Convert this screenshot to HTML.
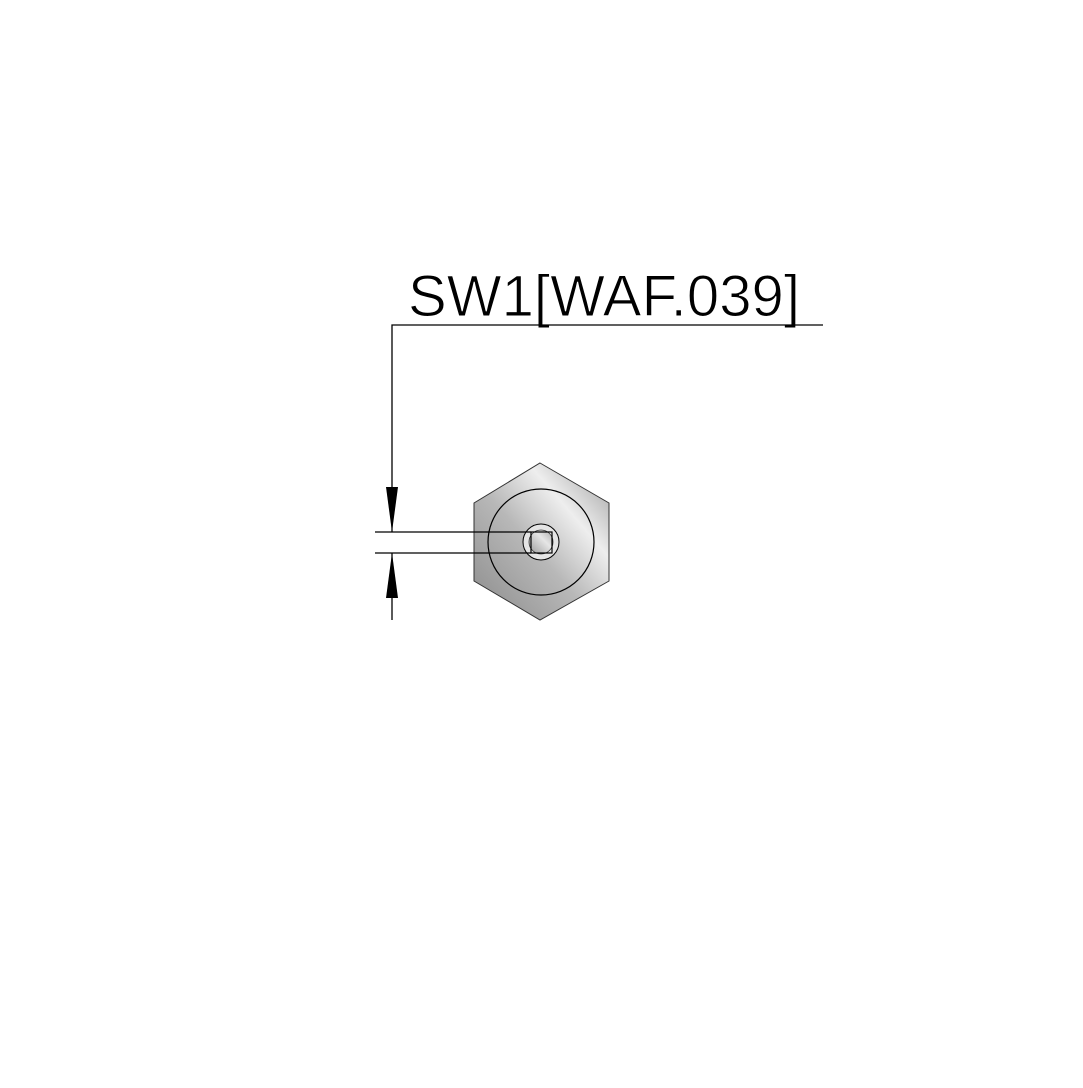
<!DOCTYPE html>
<html><head><style>html,body{margin:0;padding:0;background:#fff}</style></head>
<body>
<svg width="1083" height="1083" viewBox="0 0 1083 1083" xmlns="http://www.w3.org/2000/svg">
<defs>
<linearGradient id="g" x1="0" y1="1" x2="1" y2="0">
<stop offset="0" stop-color="#8a8a8a"/>
<stop offset="0.45" stop-color="#b8b8b8"/>
<stop offset="0.7" stop-color="#eeeeee"/>
<stop offset="1" stop-color="#9a9a9a"/>
</linearGradient>
<linearGradient id="g2" x1="0" y1="1" x2="1" y2="0">
<stop offset="0" stop-color="#999"/>
<stop offset="0.6" stop-color="#e6e6e6"/>
<stop offset="1" stop-color="#aaa"/>
</linearGradient>
</defs>
<text x="408" y="316" font-family="'Liberation Sans',sans-serif" font-size="58" textLength="392" lengthAdjust="spacing" fill="#000" stroke="#fff" stroke-width="1" style="paint-order:normal">SW1[WAF.039]</text>
<polyline points="823,325 392,325 392,532" fill="none" stroke="#000" stroke-width="1.3"/>
<line x1="392" y1="553" x2="392" y2="620" stroke="#000" stroke-width="1.3"/>
<polygon points="386,487 398,487 392,532" fill="#000"/>
<polygon points="386,598 398,598 392,553" fill="#000"/>
<polygon points="540,463 609,503 609,581 540,620 474,581 474,503" fill="url(#g)" stroke="#333" stroke-width="1"/>
<circle cx="541" cy="542" r="53" fill="none" stroke="#000" stroke-width="1.2"/>
<circle cx="541" cy="542" r="18" fill="#e4e4e4" stroke="#000" stroke-width="1"/>
<circle cx="541" cy="542" r="12" fill="url(#g2)" stroke="#333" stroke-width="0.8"/>
<rect x="531" y="532" width="21" height="21" fill="none" stroke="#000" stroke-width="1.2"/>
<line x1="375" y1="532" x2="531" y2="532" stroke="#000" stroke-width="1.2"/>
<line x1="375" y1="553" x2="531" y2="553" stroke="#000" stroke-width="1.2"/>
</svg>
</body></html>
